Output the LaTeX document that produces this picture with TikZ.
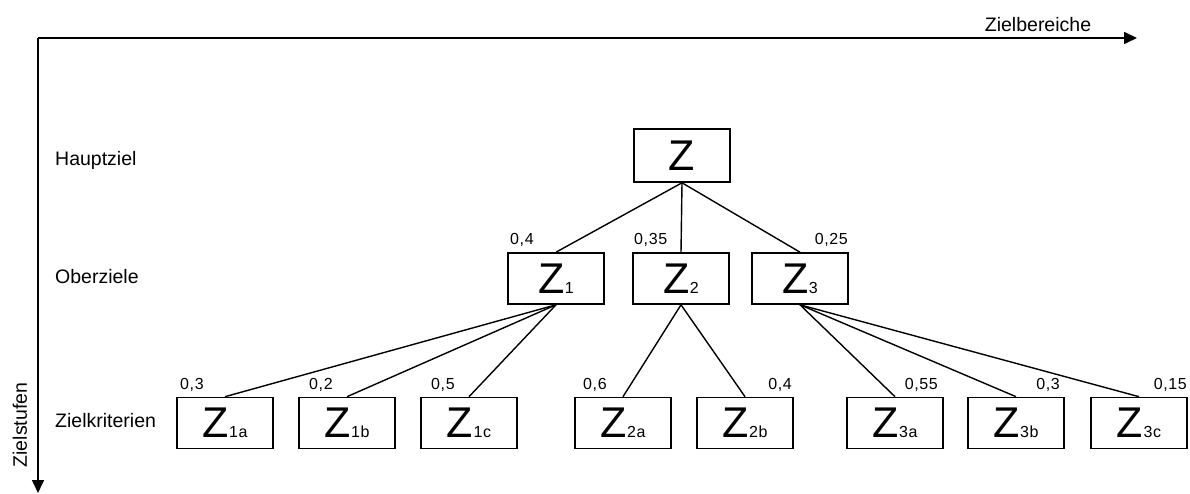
\documentclass[tikz,border=0pt]{standalone}
\usepackage{fontspec}
\setmainfont{Liberation Sans}
\newfontfamily\spacedfont[LetterSpace=4]{Liberation Sans}
\usetikzlibrary{arrows.meta}
\newcommand\Zsym[1]{{\fontsize{43}{43}\selectfont Z}\hspace{0.5pt}{\spacedfont\fontsize{16}{16}\selectfont #1}}
\begin{document}
\begin{tikzpicture}[x=1pt,y=-1pt,
  zbox/.style={draw,line width=1.6pt,minimum width=96pt,minimum height=51pt,inner sep=0pt},
  conn/.style={line width=1.4pt},
  axis/.style={line width=1.6pt,-{Triangle[length=13pt,width=12pt]}},
  lvl/.style={anchor=west,inner sep=0pt,font=\fontsize{19.5}{19.5}\selectfont},
  wt/.style={inner sep=0pt,font=\spacedfont\fontsize{16}{16}\selectfont}]
\useasboundingbox (0,0) rectangle (1190,494);
% axes
\coordinate (o) at (38,38);
\coordinate (xe) at (1137,38);
\coordinate (ye) at (38,493);
\draw[axis] (o) -- (xe);
\draw[axis] (o) -- (ye);
\node[inner sep=0pt,font=\fontsize{19.5}{19.5}\selectfont] (zb) at (1038,25) {Zielbereiche};
\node[inner sep=0pt,rotate=90,font=\fontsize{19.5}{19.5}\selectfont] (zs) at (20,425) {Zielstufen};
% level labels
\node[lvl] (l1) at (55,160) {Hauptziel};
\node[lvl] (l2) at (55,277) {Oberziele};
\node[lvl] (l3) at (55,421) {Zielkriterien};
% boxes
\node[zbox,minimum height=53pt] (Z) at (682,155.5) {\Zsym{}};
\node[zbox] (Z1) at (556,278.5) {\Zsym{1}};
\node[zbox] (Z2) at (681,278.5) {\Zsym{2}};
\node[zbox] (Z3) at (800,278.5) {\Zsym{3}};
\node[zbox] (Z1a) at (225,423) {\Zsym{1a}};
\node[zbox] (Z1b) at (347,423) {\Zsym{1b}};
\node[zbox] (Z1c) at (469,423) {\Zsym{1c}};
\node[zbox] (Z2a) at (623,423) {\Zsym{2a}};
\node[zbox] (Z2b) at (745,423) {\Zsym{2b}};
\node[zbox] (Z3a) at (895,423) {\Zsym{3a}};
\node[zbox] (Z3b) at (1016,423) {\Zsym{3b}};
\node[zbox] (Z3c) at (1139,423) {\Zsym{3c}};
% connectors
\foreach \c in {Z1,Z2,Z3} \draw[conn] (Z.south) -- (\c.north);
\foreach \c in {Z1a,Z1b,Z1c} \draw[conn] (Z1.south) -- (\c.north);
\foreach \c in {Z2a,Z2b} \draw[conn] (Z2.south) -- (\c.north);
\foreach \c in {Z3a,Z3b,Z3c} \draw[conn] (Z3.south) -- (\c.north);
% weights
\node[wt,anchor=west] (w1) at (510,240) {0,4};
\node[wt,anchor=west] (w2) at (634,240) {0,35};
\node[wt,anchor=east] (w3) at (848,240) {0,25};
\node[wt,anchor=west] (w1a) at (180,385) {0,3};
\node[wt,anchor=west] (w1b) at (309,385) {0,2};
\node[wt,anchor=west] (w1c) at (431,385) {0,5};
\node[wt,anchor=west] (w2a) at (583,385) {0,6};
\node[wt,anchor=east] (w2b) at (792,385) {0,4};
\node[wt,anchor=east] (w3a) at (938,385) {0,55};
\node[wt,anchor=east] (w3b) at (1060,385) {0,3};
\node[wt,anchor=east] (w3c) at (1187,385) {0,15};
\end{tikzpicture}
\end{document}
